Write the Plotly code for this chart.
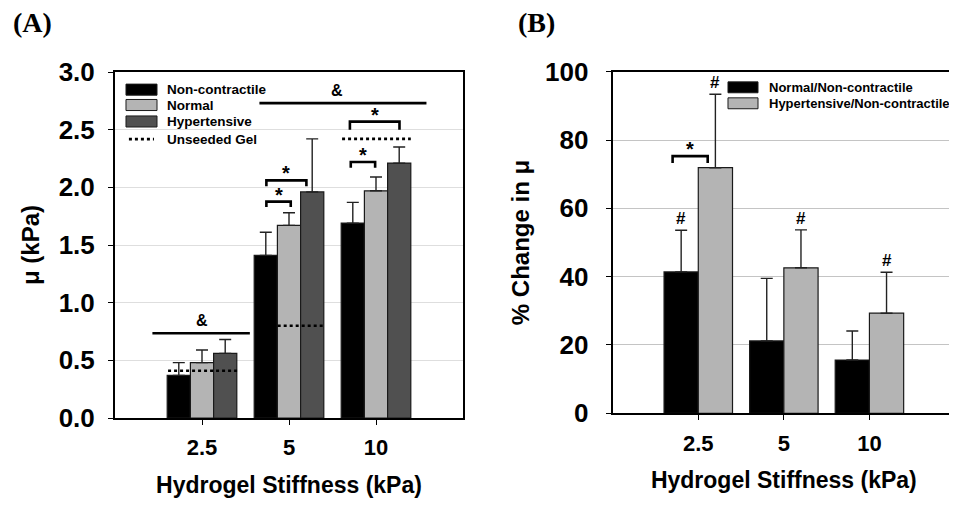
import plotly.graph_objects as go

# ---------------- data ----------------
categories = ["2.5", "5", "10"]
cat_idx = [0, 1, 2]

# Panel A: shear modulus (kPa)
nonc_mu = [0.37, 1.41, 1.69]
nonc_err = [0.11, 0.20, 0.18]
normal_mu = [0.48, 1.67, 1.97]
normal_err = [0.11, 0.11, 0.12]
hyper_mu = [0.56, 1.96, 2.21]
hyper_err = [0.12, 0.46, 0.14]

# unseeded gel reference levels and their horizontal extents (category units)
unseeded_mu = [0.41, 0.80, 2.42]
unseeded_x0 = [-0.39, 0.87, 1.61]
unseeded_x1 = [0.41, 1.41, 2.40]

# "&" significance lines
amp_y = [0.735, 2.73]
amp_x0 = [-0.57, 0.66]
amp_x1 = [0.55, 2.58]
amp_label_x = [0.0, 1.55]

# "*" brackets in panel A: x0, x1, top, leg bottom
brA_x0 = [0.74, 0.74, 1.71, 1.70]
brA_x1 = [1.02, 1.20, 1.99, 2.27]
brA_top = [1.876, 2.06, 2.22, 2.57]
brA_leg = [1.83, 2.01, 2.17, 2.50]

# Panel B: % change in mu
norm_pct = [41.4, 21.2, 15.6]
norm_pct_err = [12.2, 18.3, 8.5]
hyp_pct = [71.9, 42.6, 29.3]
hyp_pct_err = [21.5, 11.1, 12.0]

hash_x = [-0.2, 0.2, 1.2, 2.2]
hash_y = [53.6, 93.4, 53.7, 41.3]

brB_x0 = [-0.30]
brB_x1 = [0.11]
brB_top = [75.3]
brB_leg = [73.3]

yticksA = [0.0, 0.5, 1.0, 1.5, 2.0, 2.5, 3.0]
yticksB = [0, 20, 40, 60, 80, 100]

# ---------------- style ----------------
FONT = "Liberation Sans, Arial, sans-serif"
SERIF = "Liberation Serif, Times New Roman, serif"
BLACK = "#000000"
LGRAY = "#b4b4b4"
DGRAY = "#505050"
OFF = 8            # page body margin of the browser
W, H = 957 - OFF, 507 - OFF


def px(x):
    return (x - OFF) / W


def py(y):
    return 1 - (y - OFF) / H


fig = go.Figure()


def add_bars(name, y, err, color, xa, ya):
    fig.add_trace(go.Bar(
        x=cat_idx, y=y, name=name, xaxis=xa, yaxis=ya,
        marker=dict(color=color, line=dict(color="#1a1a1a", width=1.2)),
        error_y=dict(type="data", array=err, arrayminus=[0] * len(err),
                     symmetric=False, color="#222222", thickness=1.4, width=6),
        showlegend=False, offsetgroup=name,
    ))


add_bars("Non-contractile", nonc_mu, nonc_err, BLACK, "x", "y")
add_bars("Normal", normal_mu, normal_err, LGRAY, "x", "y")
add_bars("Hypertensive", hyper_mu, hyper_err, DGRAY, "x", "y")

# unseeded gel dotted segments
ux, uy = [], []
for a, b, v in zip(unseeded_x0, unseeded_x1, unseeded_mu):
    ux += [a, b, None]
    uy += [v, v, None]
fig.add_trace(go.Scatter(x=ux, y=uy, mode="lines", xaxis="x", yaxis="y",
                         line=dict(color=BLACK, width=2.6, dash="3px,3px"),
                         showlegend=False, hoverinfo="skip"))

# & lines
ax_, ay_ = [], []
for a, b, v in zip(amp_x0, amp_x1, amp_y):
    ax_ += [a, b, None]
    ay_ += [v, v, None]
fig.add_trace(go.Scatter(x=ax_, y=ay_, mode="lines", xaxis="x", yaxis="y",
                         line=dict(color=BLACK, width=2.6),
                         showlegend=False, hoverinfo="skip"))


def brackets(x0s, x1s, tops, legs, xa, ya):
    bx, by = [], []
    for a, b, t, l in zip(x0s, x1s, tops, legs):
        bx += [a, a, b, b, None]
        by += [l, t, t, l, None]
    fig.add_trace(go.Scatter(x=bx, y=by, mode="lines", xaxis=xa, yaxis=ya,
                             line=dict(color=BLACK, width=2.6),
                             showlegend=False, hoverinfo="skip"))


brackets(brA_x0, brA_x1, brA_top, brA_leg, "x", "y")


# Panel B bars
def add_bars_b(name, y, err, color):
    fig.add_trace(go.Bar(
        x=cat_idx, y=y, name=name, xaxis="x2", yaxis="y2",
        marker=dict(color=color, line=dict(color="#1a1a1a", width=1.2)),
        error_y=dict(type="data", array=err, arrayminus=[0] * len(err),
                     symmetric=False, color="#222222", thickness=1.4, width=6),
        showlegend=False, offsetgroup=name,
    ))


add_bars_b("Normal/Non-contractile", norm_pct, norm_pct_err, BLACK)
add_bars_b("Hypertensive/Non-contractile", hyp_pct, hyp_pct_err, LGRAY)
brackets(brB_x0, brB_x1, brB_top, brB_leg, "x2", "y2")

annotations = []
# & labels
for lx, v in zip(amp_label_x, amp_y):
    annotations.append(dict(x=lx, y=v, xref="x", yref="y",
                            text="<b>&</b>", showarrow=False, yanchor="bottom", yshift=2,
                            font=dict(family=FONT, size=16, color=BLACK)))
# stars A
for a, b, t in zip(brA_x0, brA_x1, brA_top):
    annotations.append(dict(x=(a + b) / 2, y=t, xref="x", yref="y", text="<b>*</b>",
                            showarrow=False, yanchor="bottom", yshift=-6,
                            font=dict(family=FONT, size=20, color=BLACK)))
# stars B
for a, b, t in zip(brB_x0, brB_x1, brB_top):
    annotations.append(dict(x=(a + b) / 2, y=t, xref="x2", yref="y2", text="<b>*</b>",
                            showarrow=False, yanchor="bottom", yshift=-6,
                            font=dict(family=FONT, size=20, color=BLACK)))
# hashes
for hx, hy in zip(hash_x, hash_y):
    annotations.append(dict(x=hx, y=hy, xref="x2", yref="y2", text="<b>#</b>",
                            showarrow=False, yanchor="bottom", yshift=0,
                            font=dict(family=FONT, size=17, color=BLACK)))

# custom legends
shapes = []
legA_names = ["Non-contractile", "Normal", "Hypertensive"]
legA_colors = [BLACK, LGRAY, DGRAY]
legA_rows = [0.949, 0.9046, 0.857]
for n, c, r in zip(legA_names, legA_colors, legA_rows):
    shapes.append(dict(type="rect", xref="x domain", yref="y domain",
                       x0=0.0316, x1=0.1207, y0=r - 0.016, y1=r + 0.016,
                       fillcolor=c, line=dict(color="#1a1a1a", width=1)))
    annotations.append(dict(x=0.1437, y=r, xref="x domain", yref="y domain",
                            text="<b>" + n + "</b>", showarrow=False, xanchor="left",
                            yanchor="middle", font=dict(family=FONT, size=13.5, color=BLACK)))
shapes.append(dict(type="line", xref="x domain", yref="y domain",
                   x0=0.040, x1=0.112, y0=0.806, y1=0.806,
                   line=dict(color=BLACK, width=2.6, dash="3px,3px")))
annotations.append(dict(x=0.1437, y=0.806, xref="x domain", yref="y domain",
                        text="<b>Unseeded Gel</b>", showarrow=False, xanchor="left",
                        yanchor="middle", font=dict(family=FONT, size=13.5, color=BLACK)))

legB_names = ["Normal/Non-contractile", "Hypertensive/Non-contractile"]
legB_colors = [BLACK, LGRAY]
legB_rows = [0.9543, 0.9075]
for n, c, r in zip(legB_names, legB_colors, legB_rows):
    shapes.append(dict(type="rect", xref="x2 domain", yref="y2 domain",
                       x0=0.3368, x1=0.4245, y0=r - 0.016, y1=r + 0.016,
                       fillcolor=c, line=dict(color="#1a1a1a", width=1)))
    annotations.append(dict(x=0.4522, y=r, xref="x2 domain", yref="y2 domain",
                            text="<b>" + n + "</b>", showarrow=False, xanchor="left",
                            yanchor="middle", font=dict(family=FONT, size=13, color=BLACK)))

# panel labels
annotations.append(dict(x=px(11), y=py(22), xref="paper", yref="paper", text="<b>(A)</b>",
                        showarrow=False, xanchor="left", yanchor="middle",
                        font=dict(family=SERIF, size=28, color=BLACK)))
annotations.append(dict(x=px(516), y=py(22), xref="paper", yref="paper", text="<b>(B)</b>",
                        showarrow=False, xanchor="left", yanchor="middle",
                        font=dict(family=SERIF, size=28, color=BLACK)))

common_x = dict(type="linear", range=[-1, 3], tickvals=cat_idx,
                ticktext=["<b>%s</b>" % c for c in categories],
                showline=True, linecolor=BLACK, linewidth=2, mirror=True,
                ticks="outside", ticklen=5, tickwidth=1.2, tickcolor=BLACK,
                showgrid=False, zeroline=False, automargin=False,
                tickfont=dict(family=FONT, size=22, color=BLACK),
                ticklabelstandoff=4,
                title=dict(text="<b>Hydrogel Stiffness (kPa)</b>", standoff=17,
                           font=dict(family=FONT, size=23, color=BLACK)))

common_y = dict(showline=True, linecolor=BLACK, linewidth=2, mirror=True,
                ticks="outside", ticklen=5, tickwidth=1.2, tickcolor=BLACK,
                zeroline=False, showgrid=True, gridwidth=1, automargin=False,
                tickfont=dict(family=FONT, size=26, color=BLACK))

fig.update_layout(
    width=W, height=H,
    margin=dict(l=0, r=0, t=0, b=0, pad=0, autoexpand=False),
    paper_bgcolor="white", plot_bgcolor="white",
    barmode="group", bargap=0.2, bargroupgap=0,
    showlegend=False,
    xaxis=dict(common_x, domain=[px(115), px(463)], anchor="y"),
    yaxis=dict(common_y, domain=[py(418), py(72)], anchor="x",
               range=[0, 3], tickvals=yticksA, ticktext=["<b>%.1f</b>" % v for v in yticksA],
               gridcolor="#dedede", ticklabelstandoff=8,
               title=dict(text="<b>μ (kPa)</b>", standoff=12,
                          font=dict(family=FONT, size=24, color=BLACK))),
    xaxis2=dict(common_x, domain=[px(612.7), px(955)], anchor="y2"),
    yaxis2=dict(common_y, domain=[py(413.3), py(71.7)], anchor="x2",
                range=[0, 100], tickvals=yticksB, ticktext=["<b>%d</b>" % v for v in yticksB],
                gridcolor="#c4c4c4", ticklabelstandoff=12,
                title=dict(text="<b>% Change in μ</b>", standoff=9,
                           font=dict(family=FONT, size=24, color=BLACK))),
    annotations=annotations,
    shapes=shapes,
)

fig.write_html("out.html")
